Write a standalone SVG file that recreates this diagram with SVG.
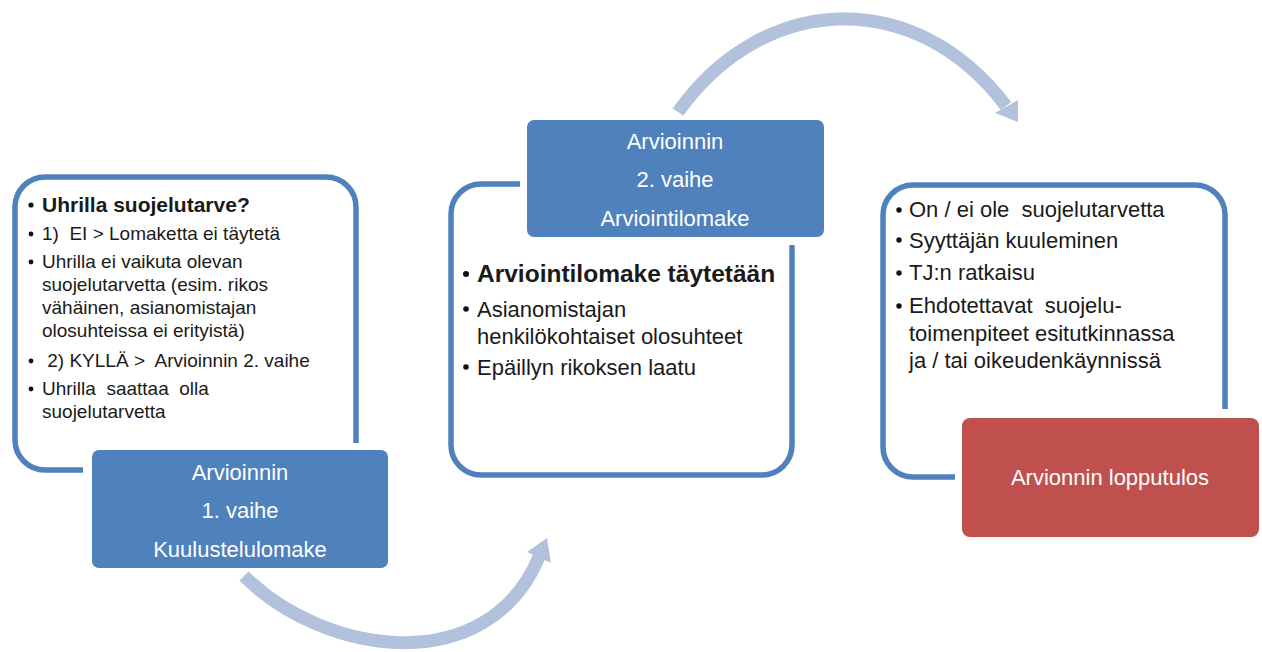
<svg xmlns="http://www.w3.org/2000/svg" width="1262" height="652" viewBox="0 0 1262 652">
<defs>
<style>
.frame{fill:none;stroke:#4F81BD;stroke-width:5.5}
.box{fill:#4F81BD}
.rbox{fill:#C0504D}
.bt{font-family:"Liberation Sans",Arial,sans-serif;font-size:22px;fill:#fff;text-anchor:middle}
.t{font-family:"Liberation Sans",Arial,sans-serif;fill:#1a1a1a;white-space:pre}
.s19{font-size:19px}
.s22{font-size:22px}
.b{font-weight:bold}
.dot{fill:#111}
.arc{fill:none;stroke:#B2C1DC;stroke-width:13}
.head{fill:#B2C1DC}
</style>
</defs>
<rect width="1262" height="652" fill="#fff"/>
<g id="connectors">
<path class="arc" d="M244 576 C324 656 487 680 539 557"/>
<polygon class="head" points="547,538 527,552 551,563"/>
<path class="arc" d="M678 112 C763 -8 916 -14 1006 106"/>
<polygon class="head" points="1018,122 995,113 1018,100"/>
</g>
<g id="stage1">
<path class="frame" d="M83 470 H45 A30 30 0 0 1 15 440 V207 A30 30 0 0 1 45 177 H326 A30 30 0 0 1 356 207 V443"/>
<circle class="dot" cx="31" cy="205" r="2.6"/>
<text class="t b" x="42" y="212" style="font-size:21px">Uhrilla suojelutarve?</text>
<circle class="dot" cx="31" cy="234" r="2.4"/>
<text class="t s19" x="42" y="240">1)  EI &gt; Lomaketta ei täytetä</text>
<circle class="dot" cx="31" cy="262" r="2.4"/>
<text class="t s19" x="42" y="268">Uhrilla ei vaikuta olevan</text>
<text class="t s19" x="42" y="291">suojelutarvetta (esim. rikos</text>
<text class="t s19" x="42" y="314">vähäinen, asianomistajan</text>
<text class="t s19" x="42" y="337">olosuhteissa ei erityistä)</text>
<circle class="dot" cx="31" cy="361" r="2.4"/>
<text class="t s19" x="42" y="367"> 2) KYLLÄ &gt;  Arvioinnin 2. vaihe</text>
<circle class="dot" cx="31" cy="389" r="2.4"/>
<text class="t s19" x="42" y="395">Uhrilla  saattaa  olla</text>
<text class="t s19" x="42" y="418">suojelutarvetta</text>
</g>
<g id="box1">
<rect class="box" x="92" y="450" width="296" height="118" rx="7"/>
<text class="bt" x="240" y="480">Arvioinnin</text>
<text class="bt" x="240" y="518">1. vaihe</text>
<text class="bt" x="240" y="557">Kuulustelulomake</text>
</g>
<g id="stage2">
<path class="frame" d="M520 184 H481 A30 30 0 0 0 451 214 V445 A30 30 0 0 0 481 475 H762 A30 30 0 0 0 792 445 V245"/>
<circle class="dot" cx="466" cy="274" r="3"/>
<text class="t b" x="477" y="282" style="font-size:24.5px">Arviointilomake täytetään</text>
<circle class="dot" cx="466" cy="309" r="2.8"/>
<text class="t s22" x="477" y="317">Asianomistajan</text>
<text class="t s22" x="477" y="344">henkilökohtaiset olosuhteet</text>
<circle class="dot" cx="466" cy="367" r="2.8"/>
<text class="t s22" x="477" y="375">Epäillyn rikoksen laatu</text>
</g>
<g id="box2">
<rect class="box" x="527" y="120" width="297" height="117" rx="7"/>
<text class="bt" x="675" y="149">Arvioinnin</text>
<text class="bt" x="675" y="187">2. vaihe</text>
<text class="bt" x="675" y="226">Arviointilomake</text>
</g>
<g id="stage3">
<path class="frame" d="M955 477 H913 A30 30 0 0 1 883 447 V215 A30 30 0 0 1 913 185 H1195 A30 30 0 0 1 1225 215 V409"/>
<circle class="dot" cx="899" cy="210" r="2.7"/>
<text class="t s22" x="909" y="217">On / ei ole  suojelutarvetta</text>
<circle class="dot" cx="899" cy="240" r="2.7"/>
<text class="t s22" x="909" y="248">Syyttäjän kuuleminen</text>
<circle class="dot" cx="899" cy="273" r="2.7"/>
<text class="t s22" x="909" y="280">TJ:n ratkaisu</text>
<circle class="dot" cx="899" cy="306" r="2.7"/>
<text class="t s22" x="909" y="313">Ehdotettavat  suojelu-</text>
<text class="t s22" x="909" y="341">toimenpiteet esitutkinnassa</text>
<text class="t s22" x="909" y="368">ja / tai oikeudenkäynnissä</text>
</g>
<g id="result">
<rect class="rbox" x="962" y="418" width="297" height="119" rx="8"/>
<text class="bt" x="1110" y="485">Arvionnin lopputulos</text>
</g>
</svg>
